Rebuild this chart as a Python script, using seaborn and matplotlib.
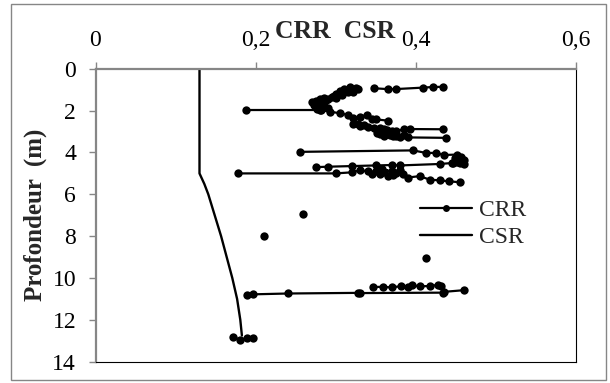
import numpy as np
import pandas as pd
import matplotlib
matplotlib.use("Agg")
import matplotlib.pyplot as plt
from matplotlib.lines import Line2D
from matplotlib.patches import Rectangle
import seaborn as sns

# ---------------- data ----------------
# CRR soundings (value, depth) - each list is one connected run of points
crr_u1_val = [0.348, 0.365, 0.375, 0.409, 0.422, 0.434]
crr_u1_dep = [0.93, 0.97, 0.97, 0.90, 0.87, 0.86]

crr_u2_val = [0.318, 0.325, 0.328, 0.310, 0.320, 0.312, 0.305, 0.315, 0.322, 0.300,
              0.308, 0.298, 0.295, 0.300, 0.290, 0.285, 0.280, 0.288, 0.275, 0.285,
              0.270, 0.280, 0.273, 0.285, 0.277, 0.290, 0.282]
crr_u2_dep = [0.88, 0.90, 0.98, 0.95, 1.00, 1.05, 1.05, 1.12, 1.10, 1.20,
              1.25, 1.30, 1.35, 1.38, 1.42, 1.40, 1.45, 1.50, 1.52, 1.55,
              1.60, 1.68, 1.75, 1.80, 1.90, 1.85, 1.95]

crr_u3_val = [0.1875, 0.280, 0.293, 0.305, 0.315, 0.322, 0.330, 0.339, 0.345, 0.351, 0.366]
crr_u3_dep = [1.97, 1.97, 2.05, 2.12, 2.20, 2.35, 2.28, 2.22, 2.38, 2.42, 2.48]

crr_u4_val = [0.322, 0.328, 0.330, 0.336, 0.340, 0.348, 0.355, 0.360, 0.364, 0.370,
              0.376, 0.385, 0.393, 0.434]
crr_u4_dep = [2.62, 2.66, 2.72, 2.70, 2.78, 2.82, 2.85, 2.88, 2.92, 2.95,
              2.96, 2.90, 2.88, 2.89]

crr_u5_val = [0.352, 0.355, 0.360, 0.363, 0.368, 0.372, 0.375, 0.380, 0.386, 0.391, 0.438]
crr_u5_dep = [3.05, 3.10, 3.20, 3.12, 3.15, 3.22, 3.20, 3.24, 3.18, 3.28, 3.30]

crr_u6_val = [0.255, 0.397, 0.413, 0.426, 0.435, 0.452, 0.457, 0.455, 0.450, 0.458,
              0.452, 0.446, 0.455, 0.460, 0.449, 0.456]
crr_u6_dep = [3.97, 3.90, 4.02, 4.02, 4.12, 4.10, 4.20, 4.30, 4.35, 4.40,
              4.45, 4.50, 4.25, 4.38, 4.28, 4.48]

crr_u7_val = [0.276, 0.290, 0.320, 0.350, 0.370, 0.380, 0.430, 0.447, 0.460]
crr_u7_dep = [4.70, 4.68, 4.65, 4.62, 4.60, 4.62, 4.55, 4.50, 4.55]

crr_u8_val = [0.178, 0.300, 0.320, 0.330, 0.340, 0.345, 0.350, 0.355, 0.360, 0.365,
              0.370, 0.358, 0.376, 0.380, 0.372, 0.384, 0.390, 0.405, 0.418, 0.430,
              0.442, 0.455]
crr_u8_dep = [5.00, 5.00, 4.95, 4.85, 4.90, 5.05, 4.88, 5.02, 4.95, 5.12,
              4.90, 4.80, 5.00, 4.85, 5.08, 5.05, 5.20, 5.13, 5.30, 5.33,
              5.38, 5.42]

crr_u9_val = [0.259]
crr_u9_dep = [6.96]
crr_u10_val = [0.211]
crr_u10_dep = [8.00]
crr_u11_val = [0.413]
crr_u11_dep = [9.04]

crr_u12_val = [0.189, 0.197, 0.241, 0.328, 0.330, 0.434, 0.436, 0.461]
crr_u12_dep = [10.79, 10.78, 10.74, 10.71, 10.72, 10.70, 10.66, 10.58]

crr_u13_val = [0.347, 0.359, 0.370, 0.382, 0.390, 0.395, 0.405, 0.418, 0.428, 0.432]
crr_u13_dep = [10.43, 10.42, 10.45, 10.39, 10.42, 10.34, 10.40, 10.38, 10.33, 10.38]

crr_u14_val = [0.172, 0.180, 0.189, 0.197]
crr_u14_dep = [12.82, 12.94, 12.89, 12.89]

# CSR profile
csr_val = [0.130, 0.130, 0.136, 0.141, 0.149, 0.157, 0.164, 0.171, 0.177, 0.181, 0.183]
csr_dep = [0.0, 5.0, 5.5, 6.0, 7.0, 8.0, 9.0, 10.0, 11.0, 12.0, 12.75]

x_ticks = [0, 0.2, 0.4, 0.6]
x_ticklabels = ["0", "0,2", "0,4", "0,6"]
y_ticks = [0, 2, 4, 6, 8, 10, 12, 14]
series_names = ["CRR", "CSR"]
title_text = "CRR  CSR"
ylabel_text = "Profondeur  (m)"

# ---------------- build frames ----------------
runs = [
    (crr_u1_val, crr_u1_dep), (crr_u2_val, crr_u2_dep), (crr_u3_val, crr_u3_dep),
    (crr_u4_val, crr_u4_dep), (crr_u5_val, crr_u5_dep), (crr_u6_val, crr_u6_dep),
    (crr_u7_val, crr_u7_dep), (crr_u8_val, crr_u8_dep), (crr_u9_val, crr_u9_dep),
    (crr_u10_val, crr_u10_dep), (crr_u11_val, crr_u11_dep), (crr_u12_val, crr_u12_dep),
    (crr_u13_val, crr_u13_dep), (crr_u14_val, crr_u14_dep),
]
rows = []
for i, (v, d) in enumerate(runs):
    for vv, dd in zip(v, d):
        rows.append({"val": vv, "dep": dd, "run": i})
crr_df = pd.DataFrame(rows)
csr_df = pd.DataFrame({"val": csr_val, "dep": csr_dep})

# ---------------- style ----------------
sns.set_theme(style="white")
plt.rcParams["font.family"] = ["Liberation Serif", "DejaVu Serif"]

W, H = 610, 383
fig = plt.figure(figsize=(W / 100, H / 100), dpi=100)
L, R, T, B = 95.5, 575.5, 68.8, 361.7
ax = fig.add_axes([L / W, 1 - B / H, (R - L) / W, (B - T) / H])

sns.lineplot(data=crr_df, x="val", y="dep", units="run", estimator=None, sort=False,
             color="black", linewidth=1.6, marker="o", markersize=6,
             markeredgewidth=0, ax=ax, legend=False)
sns.lineplot(data=csr_df, x="val", y="dep", estimator=None, sort=False,
             color="black", linewidth=1.7, ax=ax, legend=False)

ax.set_xlim(0, 0.6)
ax.set_ylim(14, 0)
ax.xaxis.tick_top()
ax.set_xticks(x_ticks)
ax.set_xticklabels(x_ticklabels)
ax.set_yticks(y_ticks)
ax.set_xlabel("")
ax.set_ylabel(ylabel_text, fontsize=18, fontweight="bold", labelpad=4)

grey = "#868686"
ax.tick_params(axis="x", which="both", top=True, bottom=False, direction="out",
               length=5, width=1, color=grey, labelsize=17, pad=8, labelcolor="black")
ax.tick_params(axis="y", which="both", left=True, direction="out",
               length=5, width=1, color=grey, labelsize=17, pad=9, labelcolor="black")
for s in ["top", "left"]:
    ax.spines[s].set_color(grey)
    ax.spines[s].set_linewidth(1.6)
for s in ["right", "bottom"]:
    ax.spines[s].set_color("black")
    ax.spines[s].set_linewidth(0.8)
ax.grid(False)

fig.text((L + R) / 2 / W, 1 - 31 / H, title_text, ha="center", va="center",
         fontsize=18.5, fontweight="bold")

handles = [
    Line2D([], [], color="black", linewidth=1.6, marker="o", markersize=5, markeredgewidth=0),
    Line2D([], [], color="black", linewidth=1.7),
]
ax.legend(handles, series_names, loc="center left",
          bbox_to_anchor=((420 - L) / (R - L), (B - 223.8) / (B - T)),
          frameon=False, fontsize=17, handlelength=2.2, handletextpad=0.3,
          labelspacing=0.22, borderpad=0, borderaxespad=0)

fig.patches.append(Rectangle((11 / W, 1 - 380 / H), (606 - 11) / W, (380 - 4) / H,
                             transform=fig.transFigure, fill=False,
                             edgecolor=grey, linewidth=1))

fig.savefig("out.png", dpi=100)
